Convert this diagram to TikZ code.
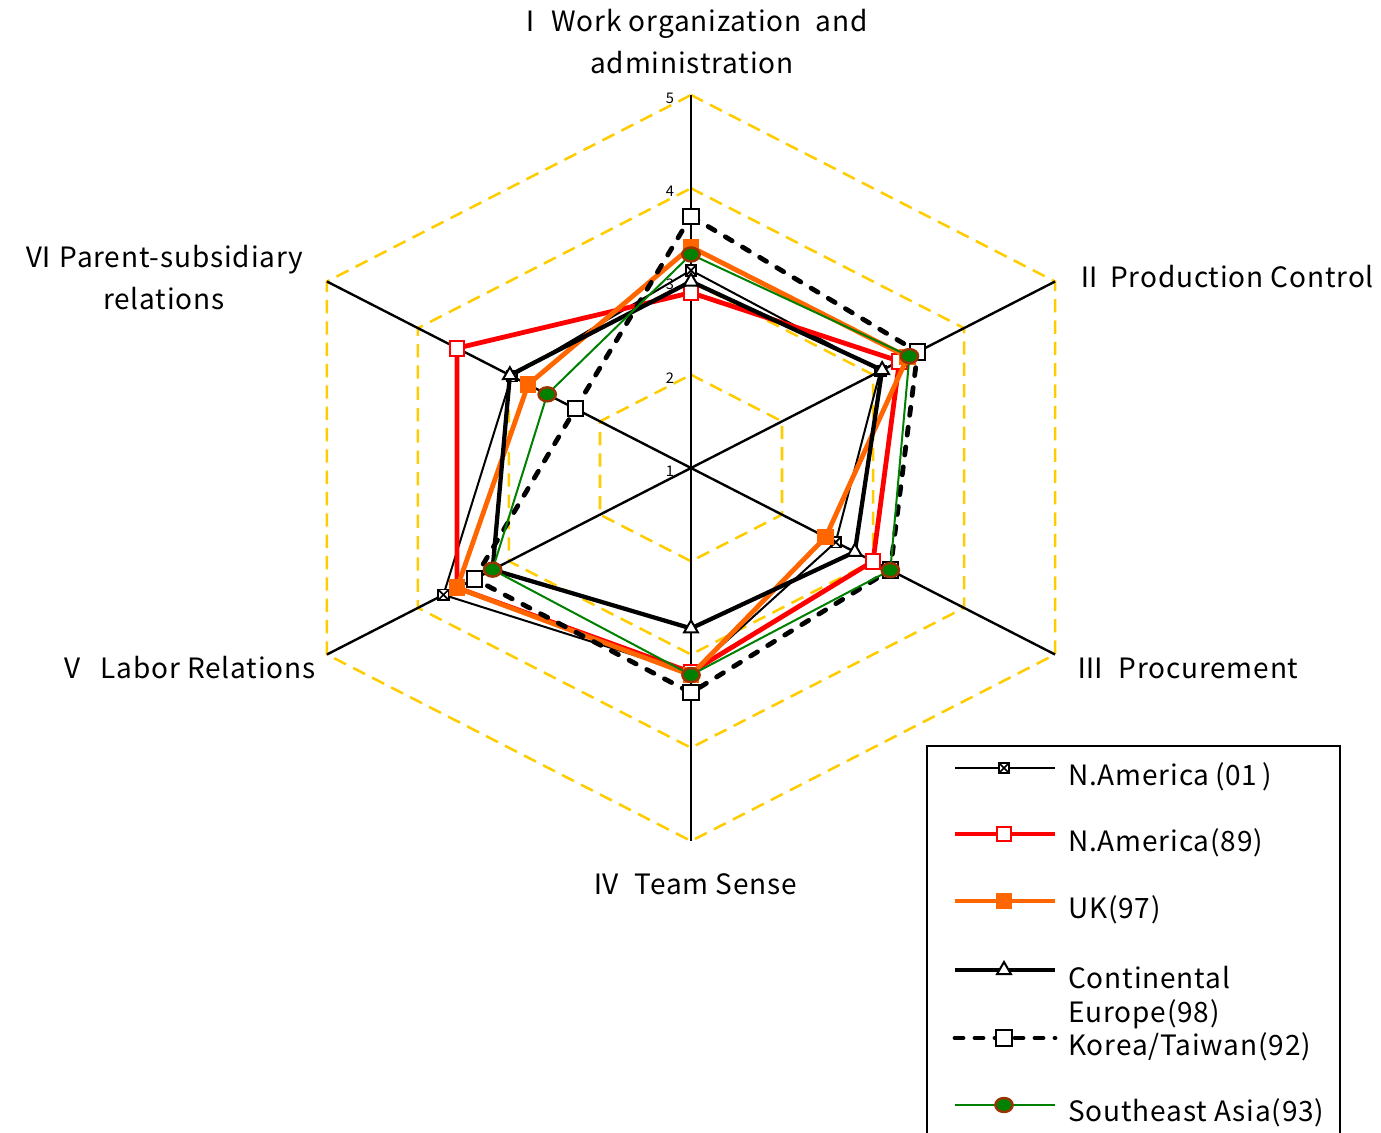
\documentclass[tikz,border=0pt]{standalone}
\usepackage{fontspec}
\setmainfont[LetterSpace=3]{Noto Sans CJK JP}
\usepackage{tikz}
\usetikzlibrary{shapes.geometric}
\definecolor{goud}{RGB}{255,204,0}
\definecolor{rood}{RGB}{255,0,0}
\definecolor{oranje}{RGB}{255,102,0}
\definecolor{groen}{RGB}{0,128,0}
\definecolor{bruin}{RGB}{153,51,0}

\tikzset{
  rooster/.style={goud, line width=1.9pt, dash pattern=on 10pt off 6pt},
  aslijn/.style={black, line width=1.8pt},
  schaal/.style={font=\fontsize{11}{13}\selectfont, inner sep=0pt},
  aslabel/.style={inner sep=0pt},
  legtekst/.style={anchor=west, inner sep=0pt},
  lijnNAa/.style={black, line width=1.5pt, line join=round},
  lijnNAb/.style={rood, line width=3.6pt, line join=round},
  lijnUK/.style={oranje, line width=3.6pt, line join=round},
  lijnCE/.style={black, line width=3.2pt, line join=round},
  lijnKT/.style={black, line width=3.6pt, dash pattern=on 6pt off 9pt, line cap=round, line join=round},
  lijnSE/.style={groen, line width=1.5pt, line join=round},
  markNAa/.style={rectangle, draw=black, fill=white, line width=1.3pt, minimum size=8pt, inner sep=0pt,
    path picture={\draw[line width=1.3pt] (path picture bounding box.north west) -- (path picture bounding box.south east)
      (path picture bounding box.north east) -- (path picture bounding box.south west);}},
  markNAb/.style={rectangle, draw=rood, fill=white, line width=1.5pt, minimum size=11pt, inner sep=0pt},
  markUK/.style={rectangle, fill=oranje, minimum size=12.5pt, inner sep=0pt},
  markCE/.style={regular polygon, regular polygon sides=3, draw=black, fill=white, line width=1.5pt, minimum size=12pt, inner sep=0pt},
  markKT/.style={rectangle, draw=black, fill=white, line width=1.5pt, minimum size=11.5pt, inner sep=0pt},
  markSE/.style={ellipse, fill=groen, draw=bruin, line width=1.8pt, minimum width=13pt, minimum height=10.5pt, inner sep=0pt}
}

\begin{document}
\begin{tikzpicture}[x=0.75pt, y=0.75pt, font=\fontsize{21}{31.5}\selectfont]
  \useasboundingbox (-691,-664) rectangle (690,468);
  % schaal: 1 eenheid = \u px, horizontaal uitgerekt met \sx
  \def\u{93.25} \def\sx{1.127}
  \coordinate (O) at (0,0);
  % rooster
  \foreach \r in {2,...,5}
    \draw[rooster] (0,{\u*(\r-1)}) \foreach \k in {1,...,5}{ -- ({\sx*\u*(\r-1)*cos(90-60*\k)},{\u*(\r-1)*sin(90-60*\k)}) } -- cycle;
  % assen
  \foreach \k in {0,...,5}{
    \coordinate (as-\k) at ({\sx*\u*4*cos(90-60*\k)},{\u*4*sin(90-60*\k)});
    \draw[aslijn] (O) -- (as-\k);
  }
  \foreach \r in {1,...,5}
    \node[schaal] (s-\r) at (-21,{\u*(\r-1)-3}) {\r};
  % aslabels
  \node[aslabel, align=center] (lab-1) at (1,426) {Ⅰ Work organization\ \ and\\administration};
  \node[aslabel, anchor=west] (lab-2) at (384,191) {Ⅱ Production Control};
  \node[aslabel, anchor=west] (lab-3) at (385,-200) {Ⅲ\ \ Procurement};
  \node[aslabel] (lab-4) at (4,-416) {Ⅳ\ \ Team Sense};
  \node[aslabel, anchor=east] (lab-5) at (-375,-200) {Ⅴ\ \ Labor Relations};
  \node[aslabel, align=center] (lab-6) at (-527,190) {Ⅵ Parent-subsidiary\\relations};
  % punten per reeks (I..VI)
  \foreach \n/\w in {na/{3.12,3.08,2.59,3.20,3.72,2.97}, nb/{2.88,3.29,3.00,3.19,3.57,3.57},
                     uk/{3.37,3.38,2.48,3.22,3.57,2.79}, ce/{3.00,3.10,2.80,2.72,3.18,2.99},
                     kt/{3.70,3.49,3.19,3.41,3.38,2.27}, se/{3.29,3.40,3.19,3.22,3.18,2.58}}
    \foreach \v [count=\k from 0] in \w
      \coordinate (\n-\k) at ({\sx*\u*(\v-1)*cos(90-60*\k)},{\u*(\v-1)*sin(90-60*\k)});
  % N.America (01)
  \draw[lijnNAa] (na-0) -- (na-1) -- (na-2) -- (na-3) -- (na-4) -- (na-5) -- cycle;
  \foreach \k in {0,...,5} \node[markNAa] (na-m\k) at (na-\k) {};
  % N.America (89)
  \draw[lijnNAb] (nb-0) -- (nb-1) -- (nb-2) -- (nb-3) -- (nb-4) -- (nb-5) -- cycle;
  \foreach \k in {0,...,5} \node[markNAb] (nb-m\k) at (nb-\k) {};
  % UK (97)
  \draw[lijnUK] (uk-0) -- (uk-1) -- (uk-2) -- (uk-3) -- (uk-4) -- (uk-5) -- cycle;
  \foreach \k in {0,...,5} \node[markUK] (uk-m\k) at (uk-\k) {};
  % Continental Europe (98)
  \draw[lijnCE] (ce-0) -- (ce-1) -- (ce-2) -- (ce-3) -- (ce-4) -- (ce-5) -- cycle;
  \foreach \k in {0,...,5} \node[markCE] (ce-m\k) at (ce-\k) {};
  % Korea/Taiwan (92)
  \draw[lijnKT] (kt-0) -- (kt-1) -- (kt-2) -- (kt-3) -- (kt-4) -- (kt-5) -- cycle;
  \foreach \k in {0,...,5} \node[markKT] (kt-m\k) at (kt-\k) {};
  % Southeast Asia (93)
  \draw[lijnSE] (se-0) -- (se-1) -- (se-2) -- (se-3) -- (se-4) -- (se-5) -- cycle;
  \foreach \k in {0,...,5} \node[markSE] (se-m\k) at (se-\k) {};
  % legenda
  \draw[line width=1.6pt] (236,-670) |- (649,-278) -- (649,-670);
  \foreach \y [count=\i] in {-300,-366,-433,-502,-570,-637}{
    \coordinate (leg-a\i) at (264,\y);
    \coordinate (leg-b\i) at (364,\y);
    \coordinate (leg-m\i) at (313,\y);
  }
  \draw[lijnNAa] (leg-a1) -- (leg-b1); \node[markNAa] (lm-1) at (leg-m1) {};
  \draw[lijnNAb] (leg-a2) -- (leg-b2); \node[markNAb] (lm-2) at (leg-m2) {};
  \draw[lijnUK] (leg-a3) -- (leg-b3); \node[markUK] (lm-3) at (leg-m3) {};
  \draw[lijnCE] (leg-a4) -- (leg-b4); \node[markCE] (lm-4) at (leg-m4) {};
  \draw[lijnKT] (leg-a5) -- (leg-b5); \node[markKT] (lm-5) at (leg-m5) {};
  \draw[lijnSE] (leg-a6) -- (leg-b6); \node[markSE] (lm-6) at (leg-m6) {};
  \node[legtekst] (lt-1) at (377,-309) {N.America\hspace{4pt}(01\hspace{4pt})};
  \node[legtekst] (lt-2) at (377,-375) {N.America(89)};
  \node[legtekst] (lt-3) at (377,-442) {UK(97)};
  \node[legtekst, align=left, font=\fontsize{21}{26}\selectfont] (lt-4) at (377,-529.5) {Continental\\Europe(98)};
  \node[legtekst] (lt-5) at (377,-579) {Korea/Taiwan(92)};
  \node[legtekst] (lt-6) at (377,-645) {Southeast Asia(93)};
\end{tikzpicture}
\end{document}
